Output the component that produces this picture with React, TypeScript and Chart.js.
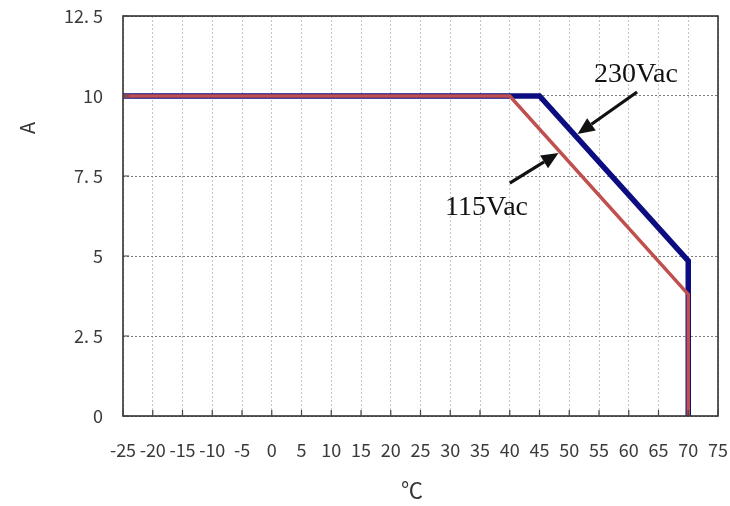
import React, { useEffect, useRef } from "react";
import { Chart, registerables } from "chart.js";

Chart.register(...registerables);

// ---- data ----
const xTicks = [-25, -20, -15, -10, -5, 0, 5, 10, 15, 20, 25, 30, 35, 40, 45, 50, 55, 60, 65, 70, 75];
const xTickLabels = ["-25", "-20", "-15", "-10", "-5", "0", "5", "10", "15", "20", "25", "30", "35", "40", "45", "50", "55", "60", "65", "70", "75"];
const yTicks = [0, 2.5, 5, 7.5, 10, 12.5];
const yTickLabels = ["0", "2. 5", "5", "7. 5", "10", "12. 5"];

const temp230 = [-25, 45, 70, 70];
const amp230 = [10, 10, 4.85, 0];
const temp115 = [-25, 40, 70, 70];
const amp115 = [10, 10, 3.8, 0];

const seriesNames = ["115Vac", "230Vac"];
const xTitle = "℃";
const yTitle = "A";

// annotation text anchors (data coords) and arrows [tailX, tailY, tipX, tipY]
const noteText = ["230Vac", "115Vac"];
const noteX = [61.2, 36.1];
const noteY = [10.44, 6.28];
const arrowTail = [[61.4, 10.125], [40.0, 7.28]];
const arrowTip = [[51.4, 8.81], [48.2, 8.22]];

const tickFont = { family: '"Noto Sans CJK SC", "Noto Sans", sans-serif', size: 18 };
const tickColor = "#3a3a3a";

const decorPlugin = {
  id: "decor",
  afterDatasetsDraw(chart: any) {
    const { ctx, chartArea: a, scales } = chart;
    const xs = scales.x;
    const ys = scales.y;
    ctx.save();
    // frame
    ctx.strokeStyle = "#333";
    ctx.lineWidth = 1.6;
    ctx.strokeRect(a.left, a.top, a.right - a.left, a.bottom - a.top);
    // inward tick marks
    ctx.lineWidth = 1.2;
    ctx.strokeStyle = "#444";
    ctx.beginPath();
    xTicks.forEach((v) => {
      const px = xs.getPixelForValue(v);
      ctx.moveTo(px, a.bottom);
      ctx.lineTo(px, a.bottom - 6);
    });
    yTicks.forEach((v) => {
      const py = ys.getPixelForValue(v);
      ctx.moveTo(a.left, py);
      ctx.lineTo(a.left + 6, py);
    });
    ctx.stroke();

    // annotations
    ctx.fillStyle = "#111";
    ctx.font = '28px "Liberation Serif", "Times New Roman", serif';
    ctx.textAlign = "center";
    ctx.textBaseline = "alphabetic";
    noteText.forEach((t, i) => {
      ctx.fillText(t, xs.getPixelForValue(noteX[i]), ys.getPixelForValue(noteY[i]));
    });
    // arrows
    arrowTail.forEach((tail, i) => {
      const tip = arrowTip[i];
      const x1 = xs.getPixelForValue(tail[0]);
      const y1 = ys.getPixelForValue(tail[1]);
      const x2 = xs.getPixelForValue(tip[0]);
      const y2 = ys.getPixelForValue(tip[1]);
      const ang = Math.atan2(y2 - y1, x2 - x1);
      const headLen = 17;
      const headW = 7.5;
      const bx = x2 - headLen * Math.cos(ang);
      const by = y2 - headLen * Math.sin(ang);
      ctx.strokeStyle = "#111";
      ctx.lineWidth = 3.2;
      ctx.beginPath();
      ctx.moveTo(x1, y1);
      ctx.lineTo(bx, by);
      ctx.stroke();
      ctx.beginPath();
      ctx.moveTo(x2, y2);
      ctx.lineTo(bx + headW * Math.sin(ang), by - headW * Math.cos(ang));
      ctx.lineTo(bx - headW * Math.sin(ang), by + headW * Math.cos(ang));
      ctx.closePath();
      ctx.fill();
    });

    // axis titles
    ctx.fillStyle = "#333";
    ctx.textAlign = "center";
    ctx.textBaseline = "middle";
    ctx.font = '22px "Liberation Serif", "Noto Sans CJK SC", serif';
    ctx.fillText(xTitle, 412, 492);
    ctx.save();
    ctx.translate(27, 128);
    ctx.rotate(-Math.PI / 2);
    ctx.font = '20px "Noto Sans CJK SC", "Liberation Serif", serif';
    ctx.fillText(yTitle, 0, 0);
    ctx.restore();
    ctx.restore();
  },
};

export default function App() {
  const ref = useRef<HTMLCanvasElement | null>(null);
  useEffect(() => {
    document.body.style.margin = "0";
    const canvas = ref.current;
    if (!canvas) return;
    const chart = new Chart(canvas, {
      type: "line",
      data: {
        datasets: [
          {
            label: seriesNames[0],
            data: temp115.map((x, i) => ({ x, y: amp115[i] })),
            borderColor: "#c0504d",
            backgroundColor: "#c0504d",
            borderWidth: 3.5,
            pointRadius: 0,
            tension: 0,
            fill: false,
            borderJoinStyle: "miter",
          },
          {
            label: seriesNames[1],
            data: temp230.map((x, i) => ({ x, y: amp230[i] })),
            borderColor: "#0d0d82",
            backgroundColor: "#0d0d82",
            borderWidth: 5.5,
            pointRadius: 0,
            tension: 0,
            fill: false,
            borderJoinStyle: "miter",
          },
        ],
      },
      options: {
        animation: false,
        responsive: false,
        devicePixelRatio: 1,
        layout: { padding: { left: 0, top: 16, right: 12, bottom: 0 } },
        plugins: { legend: { display: false }, tooltip: { enabled: false }, title: { display: false } },
        scales: {
          x: {
            type: "linear",
            min: -25,
            max: 75,
            afterBuildTicks: (s: any) => {
              s.ticks = xTicks.map((v) => ({ value: v }));
            },
            afterFit: (s: any) => {
              s.height = 90;
              s.paddingLeft = 0;
              s.paddingRight = 0;
            },
            ticks: {
              autoSkip: false,
              maxRotation: 0,
              minRotation: 0,
              padding: 23,
              font: tickFont,
              color: tickColor,
              callback: (v: any) => xTickLabels[xTicks.indexOf(Number(v))],
            },
            grid: { color: "#c4c4c4", lineWidth: 1, drawTicks: false },
            border: { display: false, dash: [2, 2] },
          },
          y: {
            type: "linear",
            min: 0,
            max: 12.5,
            afterBuildTicks: (s: any) => {
              s.ticks = yTicks.map((v) => ({ value: v }));
            },
            afterFit: (s: any) => {
              s.width = 123;
              s.paddingTop = 0;
              s.paddingBottom = 0;
            },
            ticks: {
              padding: 20,
              font: tickFont,
              color: tickColor,
              callback: (v: any) => yTickLabels[yTicks.indexOf(Number(v))],
            },
            grid: { color: "#7a7a7a", lineWidth: 1, drawTicks: false },
            border: { display: false, dash: [2, 2] },
          },
        },
      },
      plugins: [decorPlugin],
    } as any);
    return () => chart.destroy();
  }, []);
  return (
    <div style={{ width: 730, height: 506, background: "#fff" }}>
      <canvas ref={ref} width={730} height={506} />
    </div>
  );
}
